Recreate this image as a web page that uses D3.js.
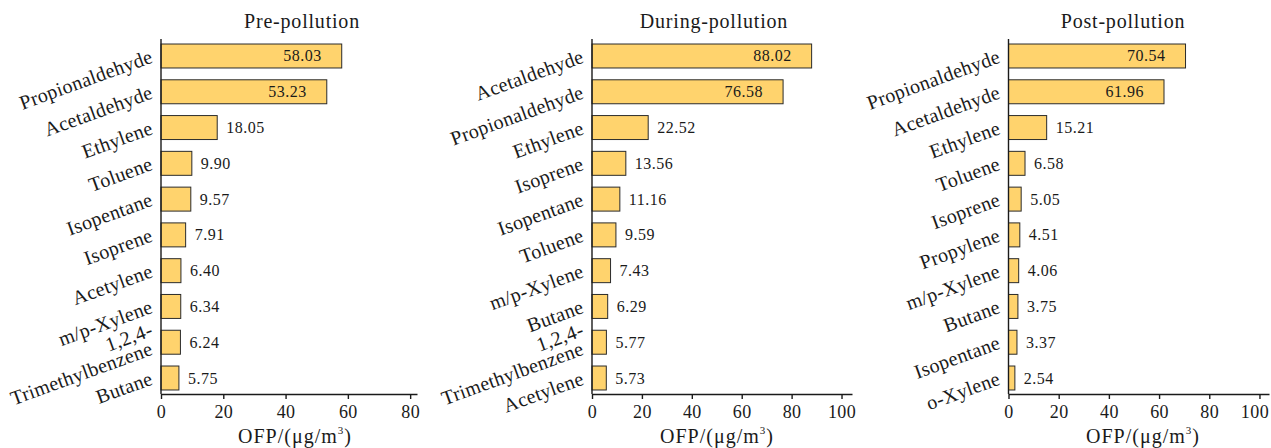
<!DOCTYPE html>
<html lang="en">
<head>
<meta charset="UTF-8">
<title>OFP by species</title>
<script src="https://d3js.org/d3.v7.min.js"></script>
<style>
    html, body { margin: 0; padding: 0; background: #fff; }
    svg { display: block; font-family: "Liberation Serif", "Times New Roman", serif; }
    .bar { fill: #ffd36d; stroke: #2b2b2b; stroke-width: 1; }
    .axis-line { stroke: #1a1a1a; stroke-width: 1.4; fill: none; }
</style>
</head>
<body>
<svg id="chart" width="1271" height="448"></svg>
<script>
    const panelTitles = ["Pre-pollution", "During-pollution", "Post-pollution"];

    const preSpecies = ["Propionaldehyde", "Acetaldehyde", "Ethylene", "Toluene", "Isopentane",
        "Isoprene", "Acetylene", "m/p-Xylene", "1,2,4-\nTrimethylbenzene", "Butane"];
    const preValues = [58.03, 53.23, 18.05, 9.90, 9.57, 7.91, 6.40, 6.34, 6.24, 5.75];

    const duringSpecies = ["Acetaldehyde", "Propionaldehyde", "Ethylene", "Isoprene", "Isopentane",
        "Toluene", "m/p-Xylene", "Butane", "1,2,4-\nTrimethylbenzene", "Acetylene"];
    const duringValues = [88.02, 76.58, 22.52, 13.56, 11.16, 9.59, 7.43, 6.29, 5.77, 5.73];

    const postSpecies = ["Propionaldehyde", "Acetaldehyde", "Ethylene", "Toluene", "Isoprene",
        "Propylene", "m/p-Xylene", "Butane", "Isopentane", "o-Xylene"];
    const postValues = [70.54, 61.96, 15.21, 6.58, 5.05, 4.51, 4.06, 3.75, 3.37, 2.54];

    const preTicks = [0, 20, 40, 60, 80];
    const duringTicks = [0, 20, 40, 60, 80, 100];
    const postTicks = [0, 20, 40, 60, 80, 100];

    const axisMax = [82.2, 104.2, 103.8];

    const svg = d3.select("#chart");

    // layout of the three panels (pixels)
    const panels = [
        { x0: 161, x1: 417, titleX: 302, labelX: 295 },
        { x0: 592, x1: 852, titleX: 714, labelX: 717 },
        { x0: 1008.5, x1: 1269, titleX: 1123, labelX: 1143 }
    ];
    const yTop = 39, yBottom = 394;

    const allSpecies = [preSpecies, duringSpecies, postSpecies];
    const allValues = [preValues, duringValues, postValues];
    const allTicks = [preTicks, duringTicks, postTicks];

    panels.forEach((p, k) => {
        const species = allSpecies[k];
        const values = allValues[k];
        const g = svg.append("g");

        const x = d3.scaleLinear().domain([0, axisMax[k]]).range([p.x0, p.x1]);
        const y = d3.scaleBand().domain(species).range([yTop, yBottom + 1])
            .paddingInner(0.33).paddingOuter(0.14);

        g.selectAll("rect.bar")
            .data(species)
            .enter()
            .append("rect")
            .attr("class", "bar")
            .attr("x", x(0))
            .attr("y", d => y(d))
            .attr("width", (d, i) => x(values[i]) - x(0))
            .attr("height", y.bandwidth());

        // value labels
        g.selectAll("text.val")
            .data(species)
            .enter()
            .append("text")
            .attr("class", "val")
            .attr("x", (d, i) => i < 2 ? x(values[i]) - 20 : x(values[i]) + 9)
            .attr("y", d => y(d) + y.bandwidth() / 2 + 5.5)
            .attr("text-anchor", (d, i) => i < 2 ? "end" : "start")
            .style("font-size", "16px")
            .style("letter-spacing", "0.5px")
            .attr("fill", "#1a1a1a")
            .text((d, i) => values[i].toFixed(2));

        // category labels, rotated
        species.forEach(name => {
            const lines = name.split("\n");
            const cy = y(name) + y.bandwidth() / 2;
            const offs = lines.length === 1 ? [6] : [-7, 12];
            lines.forEach((line, j) => {
                const lx = p.x0 - 7, ly = cy + offs[j];
                g.append("text")
                    .attr("transform", `translate(${lx},${ly}) rotate(-20)`)
                    .attr("text-anchor", "end")
                    .style("font-size", "20px")
                    .style("letter-spacing", "0.3px")
                    .attr("fill", "#1a1a1a")
                    .text(line);
            });
        });

        // x axis
        const xAxis = d3.axisBottom(x)
            .tickValues(allTicks[k])
            .tickSize(5)
            .tickSizeOuter(0)
            .tickPadding(6)
            .tickFormat(d3.format("d"));

        const ax = g.append("g")
            .attr("transform", `translate(0,${yBottom})`)
            .call(xAxis);
        ax.select(".domain").attr("class", "domain axis-line");
        ax.selectAll(".tick line").attr("stroke", "#1a1a1a").attr("stroke-width", 1.4);
        ax.selectAll(".tick text")
            .attr("fill", "#1a1a1a")
            .style("font-family", "'Liberation Serif', 'Times New Roman', serif")
            .style("font-size", "18px")
            .style("letter-spacing", "0.4px");
        if (k === 2) {
            // last label sits at the page edge, nudge it in
            ax.selectAll(".tick text").filter(d => d === 100).attr("dx", -5);
        }

        // y axis line (no ticks)
        g.append("line")
            .attr("class", "axis-line")
            .attr("x1", x(0)).attr("x2", x(0))
            .attr("y1", yTop).attr("y2", yBottom);

        // panel title
        g.append("text")
            .attr("x", p.titleX)
            .attr("y", 28)
            .attr("text-anchor", "middle")
            .style("font-size", "20px")
            .style("letter-spacing", "0.8px")
            .attr("fill", "#1a1a1a")
            .text(panelTitles[k]);

        // axis title
        const t = g.append("text")
            .attr("x", p.labelX)
            .attr("y", 443)
            .attr("text-anchor", "middle")
            .style("font-size", "20px")
            .style("letter-spacing", "1px")
            .attr("fill", "#1a1a1a");
        t.append("tspan").text("OFP/(μg/m");
        t.append("tspan").attr("dy", -9).style("font-size", "11px").text("3");
        t.append("tspan").attr("dy", 9).text(")");
    });
</script>
</body>
</html>
